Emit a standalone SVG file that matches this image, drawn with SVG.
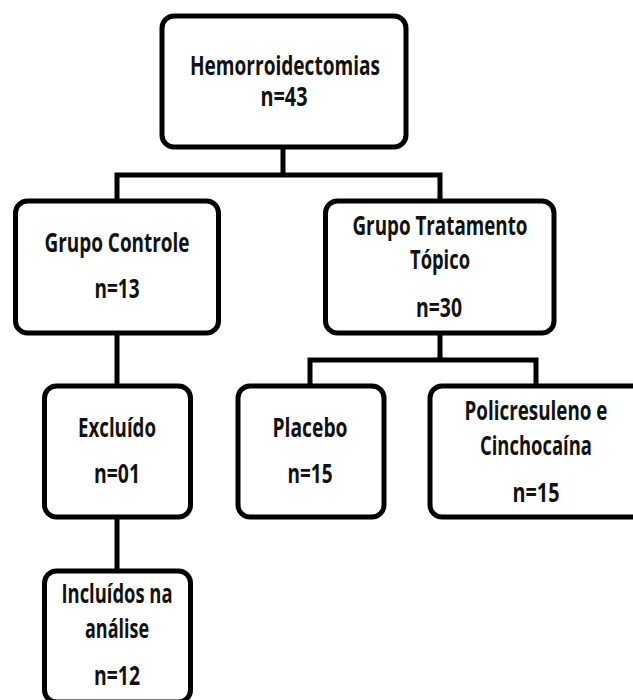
<svg xmlns="http://www.w3.org/2000/svg" width="633" height="700" viewBox="0 0 633 700">
<style>
.box{fill:#fff;stroke:#000;stroke-width:5}
.ln{fill:none;stroke:#000;stroke-width:5;stroke-linecap:square}
text{font-family:"Open Sans","Noto Sans","DejaVu Sans",sans-serif;font-weight:700;font-size:27px;fill:#111;text-anchor:middle}
</style>
<rect width="633" height="700" fill="#fff"/>
<g id="connectors">
<path class="ln" d="M283 147V175M117 175H440M117 175V201M440 175V201"/>
<path class="ln" d="M117 333V386M117 517V571"/>
<path class="ln" d="M440 333V360M310 360H536M310 360V386M536 360V386"/>
</g>
<g id="n-hemo">
<rect class="box" x="162" y="16" width="244" height="131" rx="12"/>
<text x="285" y="75" textLength="190" lengthAdjust="spacingAndGlyphs">Hemorroidectomias</text>
<text x="284" y="106" textLength="47" lengthAdjust="spacingAndGlyphs">n=43</text>
</g>
<g id="n-controle">
<rect class="box" x="15.5" y="201" width="203" height="132" rx="12"/>
<text x="117" y="252" textLength="145" lengthAdjust="spacingAndGlyphs">Grupo Controle</text>
<text x="117" y="298" textLength="45" lengthAdjust="spacingAndGlyphs">n=13</text>
</g>
<g id="n-tratamento">
<rect class="box" x="325.5" y="201" width="228.5" height="132" rx="12"/>
<text x="440" y="235" textLength="175" lengthAdjust="spacingAndGlyphs">Grupo Tratamento</text>
<text x="440" y="269" textLength="60" lengthAdjust="spacingAndGlyphs">Tópico</text>
<text x="439" y="317" textLength="46" lengthAdjust="spacingAndGlyphs">n=30</text>
</g>
<g id="n-excluido">
<rect class="box" x="44.5" y="386" width="146" height="131" rx="12"/>
<text x="117" y="437" textLength="78" lengthAdjust="spacingAndGlyphs">Excluído</text>
<text x="117" y="483" textLength="46" lengthAdjust="spacingAndGlyphs">n=01</text>
</g>
<g id="n-incluidos">
<rect class="box" x="44.5" y="571" width="146" height="131" rx="12"/>
<text x="117" y="603" textLength="111" lengthAdjust="spacingAndGlyphs">Incluídos na</text>
<text x="117" y="638" textLength="64" lengthAdjust="spacingAndGlyphs">análise</text>
<text x="117" y="685" textLength="46" lengthAdjust="spacingAndGlyphs">n=12</text>
</g>
<g id="n-placebo">
<rect class="box" x="238" y="386" width="146" height="131" rx="12"/>
<text x="310" y="437" textLength="75" lengthAdjust="spacingAndGlyphs">Placebo</text>
<text x="310" y="483" textLength="45" lengthAdjust="spacingAndGlyphs">n=15</text>
</g>
<g id="n-policresuleno">
<rect class="box" x="430" y="386" width="215" height="131" rx="12"/>
<text x="536" y="420" textLength="143" lengthAdjust="spacingAndGlyphs">Policresuleno e</text>
<text x="536" y="455" textLength="112" lengthAdjust="spacingAndGlyphs">Cinchocaína</text>
<text x="536" y="502" textLength="47" lengthAdjust="spacingAndGlyphs">n=15</text>
</g>
</svg>
